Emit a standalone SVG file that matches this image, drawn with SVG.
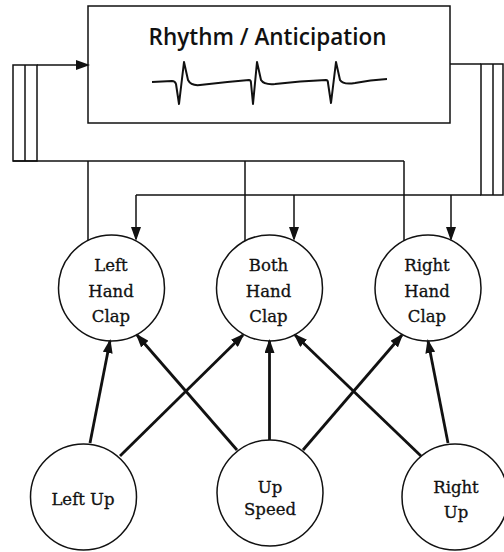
<svg xmlns="http://www.w3.org/2000/svg" width="504" height="552" viewBox="0 0 504 552">
  <defs>
    <style>
      .frame { fill: none; stroke: #111; stroke-width: 1.5; }
      .thin { fill: none; stroke: #111; stroke-width: 1.5; }
      .thick { fill: none; stroke: #111; stroke-width: 2.8; }
      .node { fill: #fff; stroke: #111; stroke-width: 1.5; }
      .lbl { font-family: "DejaVu Serif", "Liberation Serif", serif; font-size: 16.5px; fill: #111; stroke: #111; stroke-width: 0.3; text-anchor: middle; }
      .title { font-family: "Open Sans", "DejaVu Sans", sans-serif; font-size: 23px; font-weight: 600; fill: #111; text-anchor: middle; }
      .wave { fill: none; stroke: #111; stroke-width: 2; stroke-linejoin: round; }
    </style>
    <marker id="head" markerUnits="userSpaceOnUse" markerWidth="14" markerHeight="10" refX="12" refY="5" orient="auto">
      <path d="M0,0 L14,5 L0,10 z" fill="#111"/>
    </marker>
  </defs>

  <rect width="504" height="552" fill="#fff"/>

  <!-- rhythm / anticipation block -->
  <g id="rhythm">
    <rect class="frame" x="88" y="6" width="362" height="117"/>
    <text class="title" x="267.5" y="45" textLength="238" lengthAdjust="spacingAndGlyphs">Rhythm / Anticipation</text>
    <path class="wave" d="M152,82 L172,81 Q175,81 176,84 L179,104 L184,62 L188,80 Q191,86 200,85 Q225,82 249,80 Q251,80 251,83 L253,104 L257,62 L261,80 Q264,85 275,84 Q300,81 326,80 Q328,80 328,83 L331,103 L336,62 L340,80 Q343,85 355,83 Q370,80 387,79"/>
  </g>

  <!-- feedback buses -->
  <g id="bus-left">
    <rect class="thin" x="13" y="65" width="24" height="96"/>
    <line class="thin" x1="25" y1="65" x2="25" y2="161"/>
  </g>
  <g id="bus-right">
    <rect class="thin" x="481" y="64" width="22" height="131"/>
    <line class="thin" x1="493" y1="64" x2="493" y2="195"/>
  </g>

  <!-- output nodes -->
  <g id="left-hand-clap">
    <circle class="node" cx="111.5" cy="288" r="53"/>
    <text class="lbl" x="111" y="271">Left</text>
    <text class="lbl" x="111" y="297">Hand</text>
    <text class="lbl" x="111" y="322">Clap</text>
  </g>
  <g id="both-hand-clap">
    <circle class="node" cx="269.5" cy="288" r="53"/>
    <text class="lbl" x="268.5" y="271">Both</text>
    <text class="lbl" x="268.5" y="297">Hand</text>
    <text class="lbl" x="268.5" y="322">Clap</text>
  </g>
  <g id="right-hand-clap">
    <circle class="node" cx="428" cy="288" r="53"/>
    <text class="lbl" x="427" y="271">Right</text>
    <text class="lbl" x="427" y="297">Hand</text>
    <text class="lbl" x="427" y="322">Clap</text>
  </g>

  <!-- input nodes -->
  <g id="left-up">
    <circle class="node" cx="83.5" cy="497" r="53"/>
    <text class="lbl" x="83" y="505">Left Up</text>
  </g>
  <g id="up-speed">
    <circle class="node" cx="270" cy="493" r="53"/>
    <text class="lbl" x="270" y="493">Up</text>
    <text class="lbl" x="270" y="515">Speed</text>
  </g>
  <g id="right-up">
    <circle class="node" cx="455" cy="497" r="53"/>
    <text class="lbl" x="456" y="493">Right</text>
    <text class="lbl" x="456" y="518">Up</text>
  </g>

  <g id="connectors">
    <!-- clap outputs gathered into the left bus -->
    <line class="thin" x1="13" y1="161" x2="404" y2="161"/>
    <line class="thin" x1="88" y1="161" x2="88" y2="240.5"/>
    <line class="thin" x1="245" y1="161" x2="245" y2="241"/>
    <line class="thin" x1="404" y1="161" x2="404" y2="240.7"/>
    <line class="thin" x1="37" y1="65" x2="88" y2="65" marker-end="url(#head)"/>

    <!-- rhythm output back to the clap nodes -->
    <line class="thin" x1="450" y1="64" x2="481" y2="64"/>
    <line class="thin" x1="481" y1="195" x2="136" y2="195"/>
    <line class="thin" x1="136" y1="195" x2="136" y2="239" marker-end="url(#head)"/>
    <line class="thin" x1="294" y1="195" x2="294" y2="239" marker-end="url(#head)"/>
    <line class="thin" x1="451" y1="195" x2="451" y2="239" marker-end="url(#head)"/>

    <!-- input to clap weights -->
    <line class="thick" x1="90" y1="443" x2="110" y2="341" marker-end="url(#head)"/>
    <line class="thick" x1="120" y1="456" x2="243" y2="335" marker-end="url(#head)"/>
    <line class="thick" x1="237" y1="450" x2="137" y2="335" marker-end="url(#head)"/>
    <line class="thick" x1="269.5" y1="440" x2="269.5" y2="341" marker-end="url(#head)"/>
    <line class="thick" x1="303" y1="450" x2="402" y2="335" marker-end="url(#head)"/>
    <line class="thick" x1="421" y1="456" x2="295" y2="335" marker-end="url(#head)"/>
    <line class="thick" x1="448" y1="443" x2="428" y2="341" marker-end="url(#head)"/>
  </g>
</svg>
